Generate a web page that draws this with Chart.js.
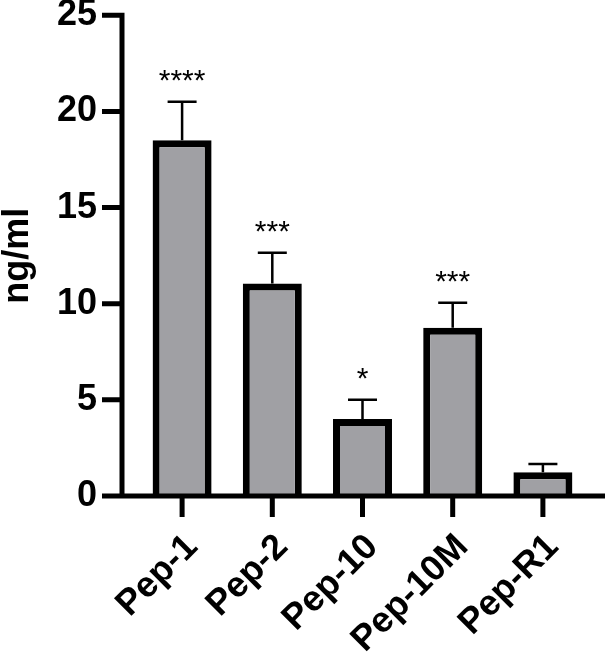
<!DOCTYPE html>
<html>
<head>
<meta charset="utf-8">
<script src="https://cdn.jsdelivr.net/npm/chart.js@4"></script>
<style>
  html, body { margin: 0; padding: 0; background: #fff; }
  #wrap { width: 608px; height: 656px; }
</style>
</head>
<body>
<div id="wrap"><canvas id="chart" width="608" height="656"></canvas></div>
<script>
const labels = ['Pep-1', 'Pep-2', 'Pep-10', 'Pep-10M', 'Pep-R1'];
const means = [18.5, 11.05, 4.0, 8.75, 1.24];
const errors = [2.0, 1.6, 1.0, 1.3, 0.43];
const stars = ['****', '***', '*', '***', ''];
const yTicks = [0, 5, 10, 15, 20, 25];

const FONT = '"Liberation Sans", Arial, sans-serif';

const prismAxes = {
    id: 'prismAxes',
    afterDatasetsDraw(chart) {
        const { ctx, chartArea, scales: { x, y } } = chart;
        const axX = chartArea.left - 15;
        const y0 = y.getPixelForValue(0);
        ctx.save();
        ctx.strokeStyle = '#000';
        ctx.lineCap = 'butt';

        // error bars (upper only)
        ctx.lineWidth = 2.5;
        means.forEach((m, i) => {
            const cx = x.getPixelForValue(i);
            const yTop = y.getPixelForValue(m + errors[i]);
            ctx.beginPath();
            ctx.moveTo(cx, y.getPixelForValue(m));
            ctx.lineTo(cx, yTop);
            ctx.moveTo(cx - 14.5, yTop);
            ctx.lineTo(cx + 14.5, yTop);
            ctx.stroke();

            if (stars[i]) {
                ctx.fillStyle = '#000';
                ctx.font = '30px ' + FONT;
                ctx.textAlign = 'center';
                ctx.textBaseline = 'alphabetic';
                ctx.fillText(stars[i], cx, yTop - 12);
            }
        });

        // axes
        ctx.lineWidth = 5;
        ctx.beginPath();
        ctx.moveTo(axX, y.getPixelForValue(25) - 2.5);
        ctx.lineTo(axX, y0);
        yTicks.forEach(t => {
            const ty = y.getPixelForValue(t);
            ctx.moveTo(axX - 20, ty);
            ctx.lineTo(axX, ty);
        });
        ctx.moveTo(axX - 20, y0);
        ctx.lineTo(chartArea.right + 17, y0);
        labels.forEach((l, i) => {
            const cx = x.getPixelForValue(i);
            ctx.moveTo(cx, y0);
            ctx.lineTo(cx, y0 + 21);
        });
        ctx.stroke();
        ctx.restore();
    }
};

new Chart(document.getElementById('chart'), {
    type: 'bar',
    data: {
        labels: labels,
        datasets: [{
            data: means,
            backgroundColor: '#a0a0a4',
            borderColor: '#000',
            borderWidth: 7,
            borderSkipped: 'start',
            categoryPercentage: 1,
            barPercentage: 0.654
        }]
    },
    options: {
        responsive: false,
        animation: false,
        devicePixelRatio: 1,
        layout: { padding: { top: 0, right: 20, left: 0, bottom: 0 } },
        plugins: {
            legend: { display: false },
            tooltip: { enabled: false }
        },
        scales: {
            x: {
                grid: { display: false, drawTicks: true, tickLength: 30 },
                border: { display: false },
                ticks: {
                    color: '#000',
                    font: { family: FONT, size: 36, weight: 'bold' },
                    maxRotation: 45,
                    minRotation: 45,
                    labelOffset: 10,
                    padding: 0
                },
                afterFit: s => { s.height = 160; }
            },
            y: {
                min: 0,
                max: 25,
                grid: { display: false, drawTicks: true, tickLength: 40 },
                border: { display: false },
                afterBuildTicks: s => { s.ticks = yTicks.map(v => ({ value: v })); },
                ticks: {
                    color: '#000',
                    font: { family: FONT, size: 36, weight: 'bold', lineHeight: 0.85 },
                    padding: 0
                },
                title: {
                    display: true,
                    text: 'ng/ml',
                    color: '#000',
                    font: { family: FONT, size: 36, weight: 'bold', lineHeight: 1 },
                    padding: 0
                },
                afterFit: s => { s.width = 137; }
            }
        }
    },
    plugins: [prismAxes]
});
</script>
</body>
</html>
